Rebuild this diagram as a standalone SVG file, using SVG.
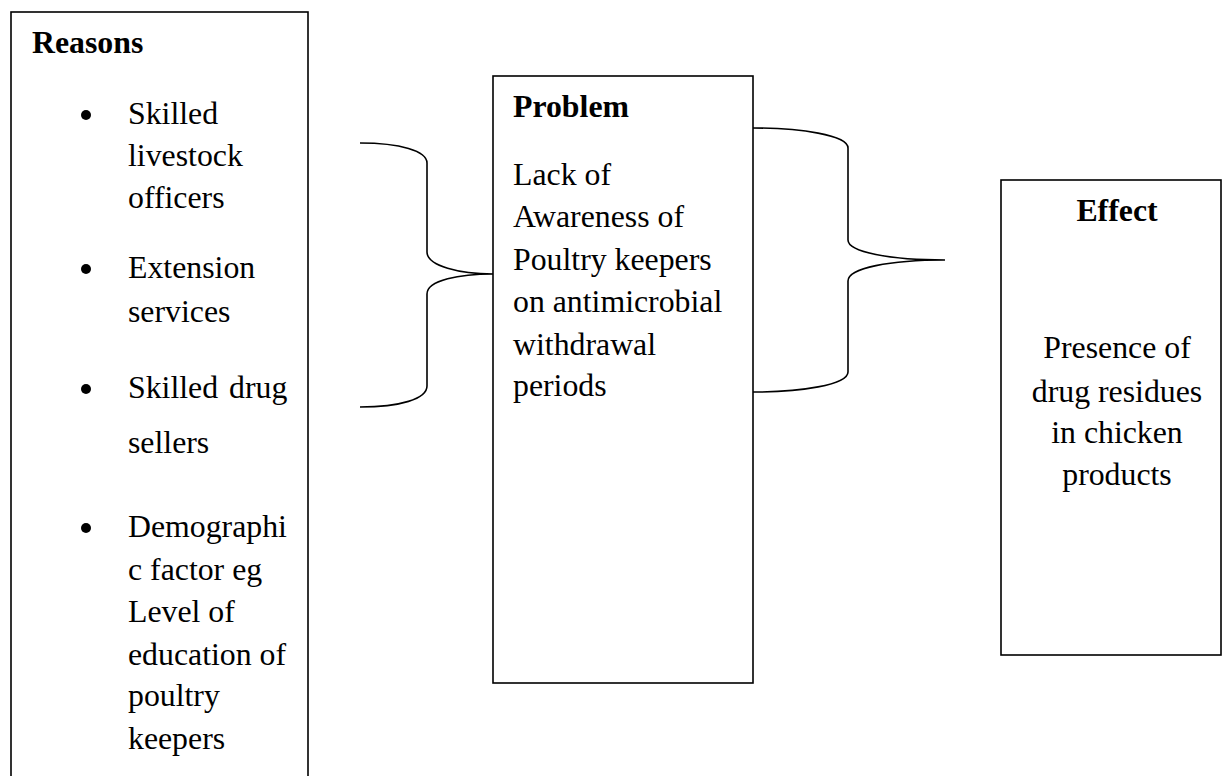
<svg xmlns="http://www.w3.org/2000/svg" width="1222" height="776" viewBox="0 0 1222 776">
<style>
.box{fill:#fff;stroke:#000;stroke-width:1.6}
.t{font-family:"Liberation Serif","Times New Roman",serif;font-size:31.8px;fill:#000}
.b{font-weight:bold}
.c{text-anchor:middle}
.brace{fill:none;stroke:#000;stroke-width:1.6}
.dot{fill:#000}
</style>
<rect width="1222" height="776" fill="#fff"/>
<g id="reasons">
<rect class="box" x="11" y="12" width="297" height="790"/>
<text class="t b" x="32" y="53">Reasons</text>
<circle class="dot" cx="86" cy="115" r="5"/>
<text class="t" x="128" y="124">Skilled</text>
<text class="t" x="128" y="166">livestock</text>
<text class="t" x="128" y="208">officers</text>
<circle class="dot" cx="86" cy="269" r="5"/>
<text class="t" x="128" y="278">Extension</text>
<text class="t" x="128" y="322">services</text>
<circle class="dot" cx="86" cy="389" r="5"/>
<text class="t" x="128" y="398">Skilled<tspan x="229">drug</tspan></text>
<text class="t" x="128" y="453">sellers</text>
<circle class="dot" cx="86" cy="528" r="5"/>
<text class="t" x="128" y="537">Demographi</text>
<text class="t" x="128" y="580">c factor eg</text>
<text class="t" x="128" y="622">Level of</text>
<text class="t" x="128" y="665">education of</text>
<text class="t" x="128" y="706">poultry</text>
<text class="t" x="128" y="749">keepers</text>
</g>
<g id="problem">
<rect class="box" x="493" y="76" width="260" height="607"/>
<text class="t b" x="513" y="117">Problem</text>
<text class="t" x="513" y="185">Lack of</text>
<text class="t" x="513" y="227">Awareness of</text>
<text class="t" x="513" y="270">Poultry keepers</text>
<text class="t" x="513" y="312">on antimicrobial</text>
<text class="t" x="513" y="355">withdrawal</text>
<text class="t" x="513" y="396">periods</text>
</g>
<g id="effect">
<rect class="box" x="1001" y="180" width="220" height="475"/>
<text class="t b c" x="1117" y="221">Effect</text>
<text class="t c" x="1117" y="358">Presence of</text>
<text class="t c" x="1117" y="402">drug residues</text>
<text class="t c" x="1117" y="443">in chicken</text>
<text class="t c" x="1117" y="485">products</text>
</g>
<g id="connectors">
<path class="brace" d="M360,143 C400,143 427,151 427,163 L427,252 C427,266 460,274 493,274 C460,274 427,280 427,294 L427,386 C427,399 400,407 360,407"/>
<path class="brace" d="M753,128 C800,128 848,135 848,148 L848,240 C848,252 890,260 945,260 C890,260 848,268 848,281 L848,372 C848,385 800,392 753,392"/>
</g>
</svg>
